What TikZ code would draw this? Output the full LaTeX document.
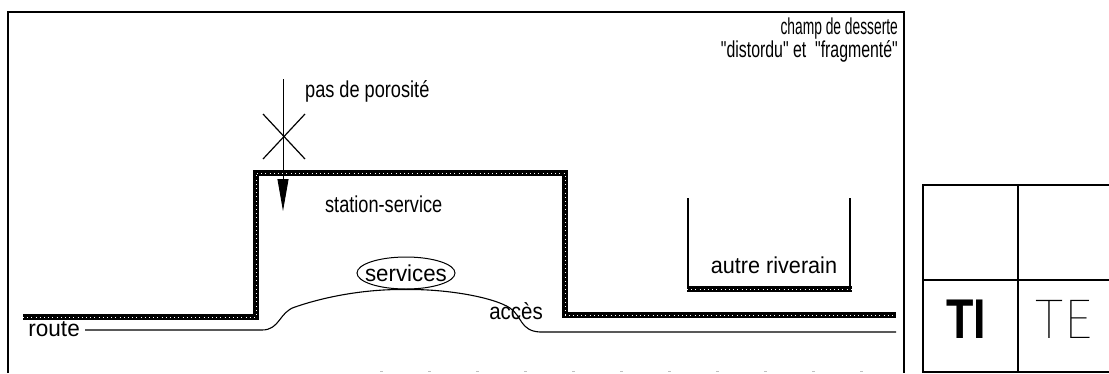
\documentclass[tikz,border=0pt]{standalone}
\usepackage{fontspec}
\setmainfont{Liberation Sans}[Ligatures=TeXOff]
\newfontfamily\tefont{Fira Sans Thin}
\usetikzlibrary{arrows.meta,shapes.geometric}
\begin{document}
\begin{tikzpicture}[x=1pt,y=-1pt,
  lbl/.style={inner sep=0pt, font=\fontsize{23}{26}\selectfont},
  hatch/.style={line width=5.5pt, line join=miter, postaction={draw=white, line width=0.9pt, dash pattern=on 0.8pt off 3.4pt}},
  outer/.style={line width=1.3pt},
  roadline/.style={line width=1.1pt},
  tabline/.style={line width=2.2pt},
  bigletter/.style={inner sep=0pt}]
\useasboundingbox (0,0) rectangle (1109,373);
\fill[white] (0,0) rectangle (1109,373);

% outer frame
\draw[outer] (8,373) -- (8,12) -- (904,12) -- (904,373);
\draw[gray!50, line width=1pt, dash pattern=on 3pt off 45pt] (380,371) -- (900,371);

% table
\draw[tabline] (1109,185) -- (923,185) -- (923,373);
\draw[tabline] (1018,185) -- (1018,373);
\draw[tabline] (923,280) -- (1109,280);
\draw[tabline] (923,372) -- (1109,372);
\node[bigletter, font=\fontsize{56}{60}\selectfont\bfseries, xscale=0.8] (TI) at (966,319) {TI};
\node[bigletter, font=\fontsize{56}{60}\selectfont\tefont, xscale=1.05] (TE) at (1064,319) {TE};

% texts
\node[lbl, anchor=base east, xscale=0.6] (champ1) at (898,34) {champ de desserte};
\node[lbl, anchor=base east, xscale=0.69] (champ2) at (898,57) {"distordu" et\ \ "fragmenté"};
\node[lbl, anchor=base west, xscale=0.79] (poro) at (305,97) {pas de porosité};
\node[lbl, anchor=base west, xscale=0.79] (station) at (325,212) {station-service};
\node[lbl, anchor=base, xscale=0.94] (riverain) at (774,273) {autre riverain};
\node[lbl, anchor=east, xscale=0.98] (route) at (80,329) {route};
\node[lbl, anchor=center, xscale=0.89] (acces) at (516,311) {accès};
\node[lbl, draw, ellipse, line width=1pt, minimum width=98pt, minimum height=32pt] (services) at (406,273) {\makebox[0pt]{\fontsize{23}{26}\selectfont\scalebox{0.97}[1]{services}}};

% hatched boundaries
\draw[hatch] (23,317) -- (256,317) -- (256,173) -- (565,173) -- (565,315) -- (896,315);
\coordinate (rvL) at (688,198);
\coordinate (rvR) at (850,198);
\coordinate (rvBL) at (688,289);
\coordinate (rvBR) at (850,289);
\draw[roadline] (rvL) -- (rvBL);
\draw[roadline] (rvR) -- (rvBR);
\draw[hatch] ([xshift=-1pt]rvBL) -- ([xshift=2pt]rvBR);

% road
\coordinate (r0) at (85,330);
\coordinate (r1) at (262,330);
\coordinate (top) at (services.south);
\coordinate (r2) at (540,332);
\coordinate (r3) at (896,332);
\draw[roadline] (r0) -- (r1) .. controls (280,330) and (279,312) .. (295,307)
  .. controls (330,295) and (370,289) .. (top)
  .. controls (450,289) and (495,298) .. (510,308)
  .. controls (522,316) and (520,331) .. (r2) -- (r3);

% arrow & cross
\coordinate (atop) at (283,79);
\coordinate (atip) at (283,211);
\draw[line width=0.9pt, -{Triangle[length=32pt,width=11pt]}] (atop) -- (atip);
\coordinate (x1) at (263,114);
\coordinate (x2) at (305,159);
\coordinate (x3) at (305,114);
\coordinate (x4) at (263,159);
\draw[line width=1.2pt] (x1) -- (x2);
\draw[line width=1.2pt] (x3) -- (x4);
\end{tikzpicture}
\end{document}
